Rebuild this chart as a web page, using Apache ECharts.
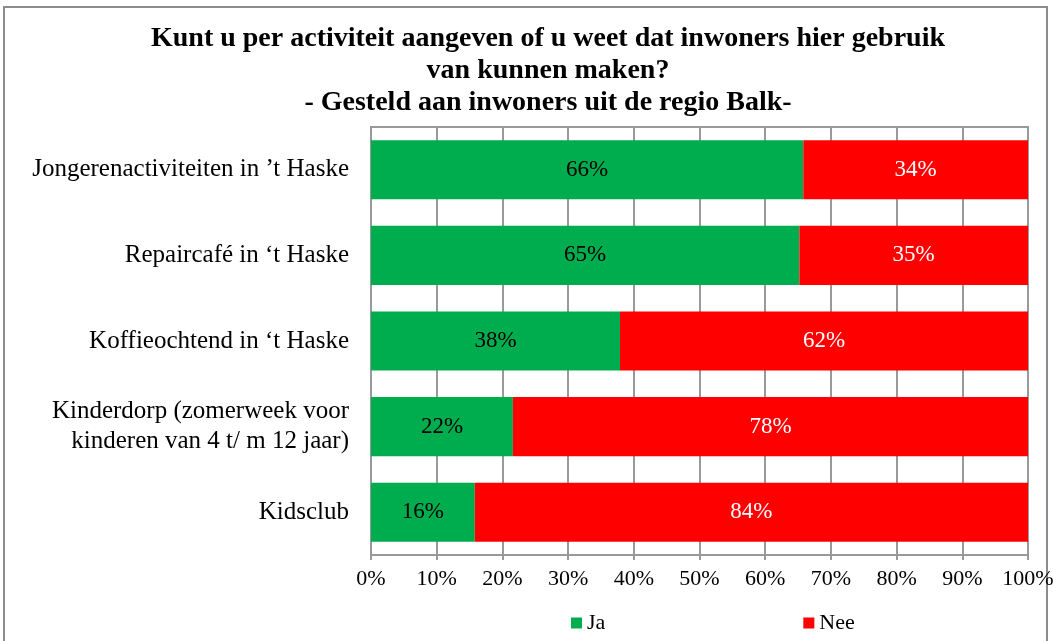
<!DOCTYPE html>
<html>
<head>
<meta charset="utf-8">
<script src="https://cdn.jsdelivr.net/npm/echarts@6/dist/echarts.min.js"></script>
<style>
  html, body { margin: 0; padding: 0; background: #fff; }
  #chart { width: 1053px; height: 641px; }
</style>
</head>
<body>
<div id="chart"></div>
<script>
// categorieën, van boven naar beneden
const categories = [
  'Jongerenactiviteiten in ’t Haske',
  'Repaircafé in ‘t Haske',
  'Koffieochtend in ‘t Haske',
  'Kinderdorp (zomerweek voor\nkinderen van 4 t/ m 12 jaar)',
  'Kidsclub'
]
const jaValues = [65.8, 65.2, 37.9, 21.6, 15.8]
const neeValues = [34.2, 34.8, 62.1, 78.4, 84.2]

const serif = 'Liberation Serif'

const chart = echarts.init(document.getElementById('chart'))
const option = {
  backgroundColor: '#fff',
  animation: false,
  title: {
    text: 'Kunt u per activiteit aangeven of u weet dat inwoners hier gebruik\nvan kunnen maken?\n- Gesteld aan inwoners uit de regio Balk-',
    left: 543,
    textAlign: 'center',
    top: 18,
    textStyle: {
      fontFamily: serif,
      fontWeight: 'bold',
      fontSize: 28,
      lineHeight: 32,
      color: '#000'
    }
  },
  graphic: [{
    type: 'rect',
    silent: true,
    shape: { x: 4, y: 7, width: 1043, height: 700 },
    style: { fill: 'none', stroke: '#8c8c8c', lineWidth: 2 }
  }],
  legend: {
    bottom: 2,
    left: 566,
    itemGap: 198,
    itemWidth: 11,
    itemHeight: 11,
    icon: 'rect',
    textStyle: { fontFamily: serif, fontSize: 22, color: '#000' },
    data: ['Ja', 'Nee']
  },
  grid: {
    left: 371,
    right: 25,
    top: 127,
    bottom: 86,
    outerBoundsMode: 'none',
    show: true,
    borderColor: '#999',
    borderWidth: 2
  },
  xAxis: {
    type: 'value',
    min: 0,
    max: 100,
    interval: 10,
    axisLine: { show: true, lineStyle: { color: '#999', width: 2 } },
    axisTick: { show: true, length: 5, lineStyle: { color: '#999', width: 2 } },
    splitLine: { show: true, lineStyle: { color: '#999', width: 2 } },
    axisLabel: {
      formatter: '{value}%',
      fontFamily: serif,
      fontSize: 22,
      color: '#000',
      margin: 13
    }
  },
  yAxis: {
    type: 'category',
    inverse: true,
    data: categories,
    axisLine: { show: true, lineStyle: { color: '#999', width: 2 } },
    axisTick: { show: false },
    axisLabel: {
      fontFamily: serif,
      fontSize: 25,
      lineHeight: 30,
      color: '#000',
      margin: 22,
      align: 'right'
    }
  },
  series: [
    {
      name: 'Ja',
      type: 'bar',
      stack: 'totaal',
      barCategoryGap: '31%',
      data: jaValues,
      itemStyle: { color: '#00AD4E' },
      label: {
        show: true,
        position: 'inside',
        formatter: p => Math.round(p.value) + '%',
        fontFamily: serif,
        fontSize: 23,
        color: '#000'
      }
    },
    {
      name: 'Nee',
      type: 'bar',
      stack: 'totaal',
      data: neeValues,
      itemStyle: { color: '#FF0000' },
      label: {
        show: true,
        position: 'inside',
        formatter: p => Math.round(p.value) + '%',
        fontFamily: serif,
        fontSize: 23,
        color: '#fff'
      }
    }
  ]
}
chart.setOption(option)
</script>
</body>
</html>
